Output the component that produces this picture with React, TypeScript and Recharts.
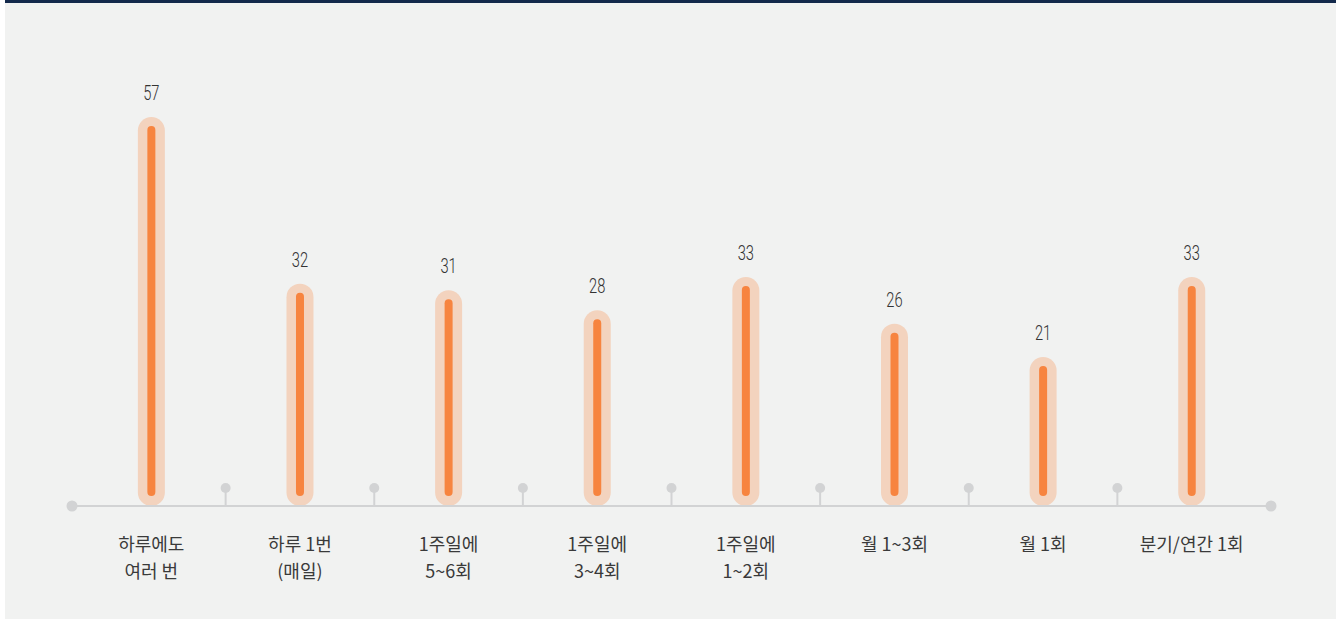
import { BarChart, Bar, XAxis, YAxis, LabelList } from 'recharts'

// 이용 빈도별 응답 수
const categories = [
  '하루에도\n여러 번',
  '하루 1번\n(매일)',
  '1주일에\n5~6회',
  '1주일에\n3~4회',
  '1주일에\n1~2회',
  '월 1~3회',
  '월 1회',
  '분기/연간 1회',
]
const values = [57, 32, 31, 28, 33, 26, 21, 33]

const data = categories.map((category, i) => ({ category, value: values[i] }))

const AXIS_PAD = 5
const GRAY = '#d2d3d4'
const KR_FONT = '"Noto Sans CJK KR", "Noto Sans", sans-serif'

function LollipopBar(props: any) {
  const { x, y, width, height } = props
  if (height == null || height <= 0) return null
  const cx = x + width / 2
  const outer = 27
  const inner = 8
  return (
    <g>
      <rect
        x={cx - outer / 2}
        y={y - 9}
        width={outer}
        height={height + 9}
        rx={outer / 2}
        fill="#f3d3be"
      />
      <rect
        x={cx - inner / 2}
        y={y}
        width={inner}
        height={height - 10}
        rx={inner / 2}
        fill="#f7843f"
      />
    </g>
  )
}

function ValueLabel(props: any) {
  const { x, y, width, value } = props
  const cx = x + width / 2
  return (
    <text
      transform={`translate(${cx} ${y - 26}) scale(0.7 1)`}
      textAnchor="middle"
      fontFamily="Roboto, sans-serif"
      fontWeight={300}
      fontSize={21}
      fill="#333"
    >
      {value}
    </text>
  )
}

function CategoryTick(props: any) {
  const { x, y, payload, index, visibleTicksCount } = props
  const half = payload?.offset ?? 74
  const lines = String(payload.value).split('\n')
  const last = (visibleTicksCount ?? categories.length) - 1
  return (
    <g>
      {index < last && (
        <g>
          <line x1={x + half} x2={x + half} y1={y - 18} y2={y} stroke={GRAY} strokeWidth={2} />
          <circle cx={x + half} cy={y - 18} r={5} fill={GRAY} />
        </g>
      )}
      {index === 0 && <circle cx={x - half - AXIS_PAD} cy={y} r={5.5} fill={GRAY} />}
      {index === last && <circle cx={x + half + AXIS_PAD} cy={y} r={5.5} fill={GRAY} />}
      <text textAnchor="middle" fontFamily={KR_FONT} fontSize={18} fill="#3a3a3a">
        {lines.map((line, i) => (
          <tspan key={i} x={x} y={y + 45 + i * 27}>
            {line}
          </tspan>
        ))}
      </text>
    </g>
  )
}

export default function App() {
  return (
    <div
      style={{
        position: 'absolute',
        left: 5,
        top: 0,
        width: 1331,
        height: 619,
        background: '#f1f2f1',
        borderTop: '3px solid #13294b',
        boxSizing: 'border-box',
      }}
    >
      <div style={{ position: 'absolute', left: 0, top: -3 }}>
        <BarChart
          width={1331}
          height={619}
          data={data}
          margin={{ top: 106, right: 65, bottom: 0, left: 67 }}
        >
          <YAxis hide domain={[0, 60]} />
          <XAxis
            dataKey="category"
            height={113}
            interval={0}
            padding={{ left: AXIS_PAD, right: AXIS_PAD }}
            axisLine={{ stroke: GRAY, strokeWidth: 2 }}
            tickLine={false}
            tickSize={0}
            tickMargin={0}
            tick={<CategoryTick />}
          />
          <Bar dataKey="value" shape={<LollipopBar />} isAnimationActive={false}>
            <LabelList dataKey="value" content={<ValueLabel />} />
          </Bar>
        </BarChart>
      </div>
    </div>
  )
}
